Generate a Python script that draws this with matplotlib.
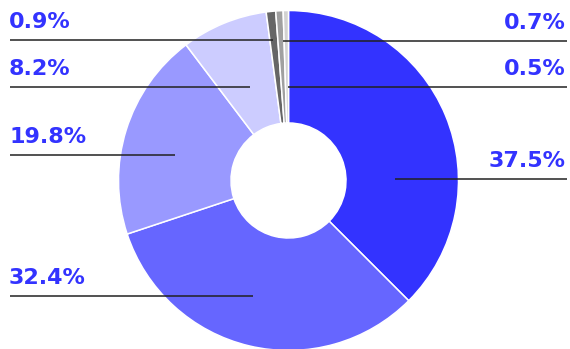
import matplotlib
matplotlib.use("Agg")
import matplotlib.pyplot as plt

# slice values, clockwise from 12 o'clock
values = [37.5, 32.4, 19.8, 8.2, 0.9, 0.7, 0.5]
labels = ["37.5%", "32.4%", "19.8%", "8.2%", "0.9%", "0.7%", "0.5%"]
colors = ["#3333FF", "#6666FF", "#9999FF", "#CCCCFF", "#666666", "#A0A0A0", "#D2D2D2"]

# label layout (pixels): side, leader line y, leader line inner end x
label_side = ["right", "left", "left", "left", "left", "right", "right"]
line_y = [179, 296, 155, 87, 40, 41, 87]
line_end = [395, 253, 175, 250, 273, 283, 288]

W, H = 570, 349
fig = plt.figure(figsize=(W / 100, H / 100), dpi=100)
ax = fig.add_axes([0, 0, 1, 1])

cx, cy, r_out, r_in = 288.5, 180.5, 170, 57.5
# y axis is inverted below, so start at -90 and go counterclockwise in data
ax.pie(values, colors=colors, startangle=-90, counterclock=True,
       center=(cx, cy), radius=r_out, frame=True,
       wedgeprops=dict(width=r_out - r_in, edgecolor="white", linewidth=1.1))
ax.set_xlim(0, W)
ax.set_ylim(H, 0)
ax.set_aspect("equal")
ax.axis("off")

for lab, side, y, xe in zip(labels, label_side, line_y, line_end):
    if side == "left":
        ax.plot([10, xe], [y, y], color="#222222", lw=1.1, solid_capstyle="butt")
        ax.text(9, y - 12, lab, ha="left", va="baseline", fontsize=16,
                fontweight="bold", color="#3333FF", family="DejaVu Sans")
    else:
        ax.plot([xe, 567], [y, y], color="#222222", lw=1.1, solid_capstyle="butt")
        ax.text(566, y - 12, lab, ha="right", va="baseline", fontsize=16,
                fontweight="bold", color="#3333FF", family="DejaVu Sans")

fig.savefig("out.png", dpi=100)
